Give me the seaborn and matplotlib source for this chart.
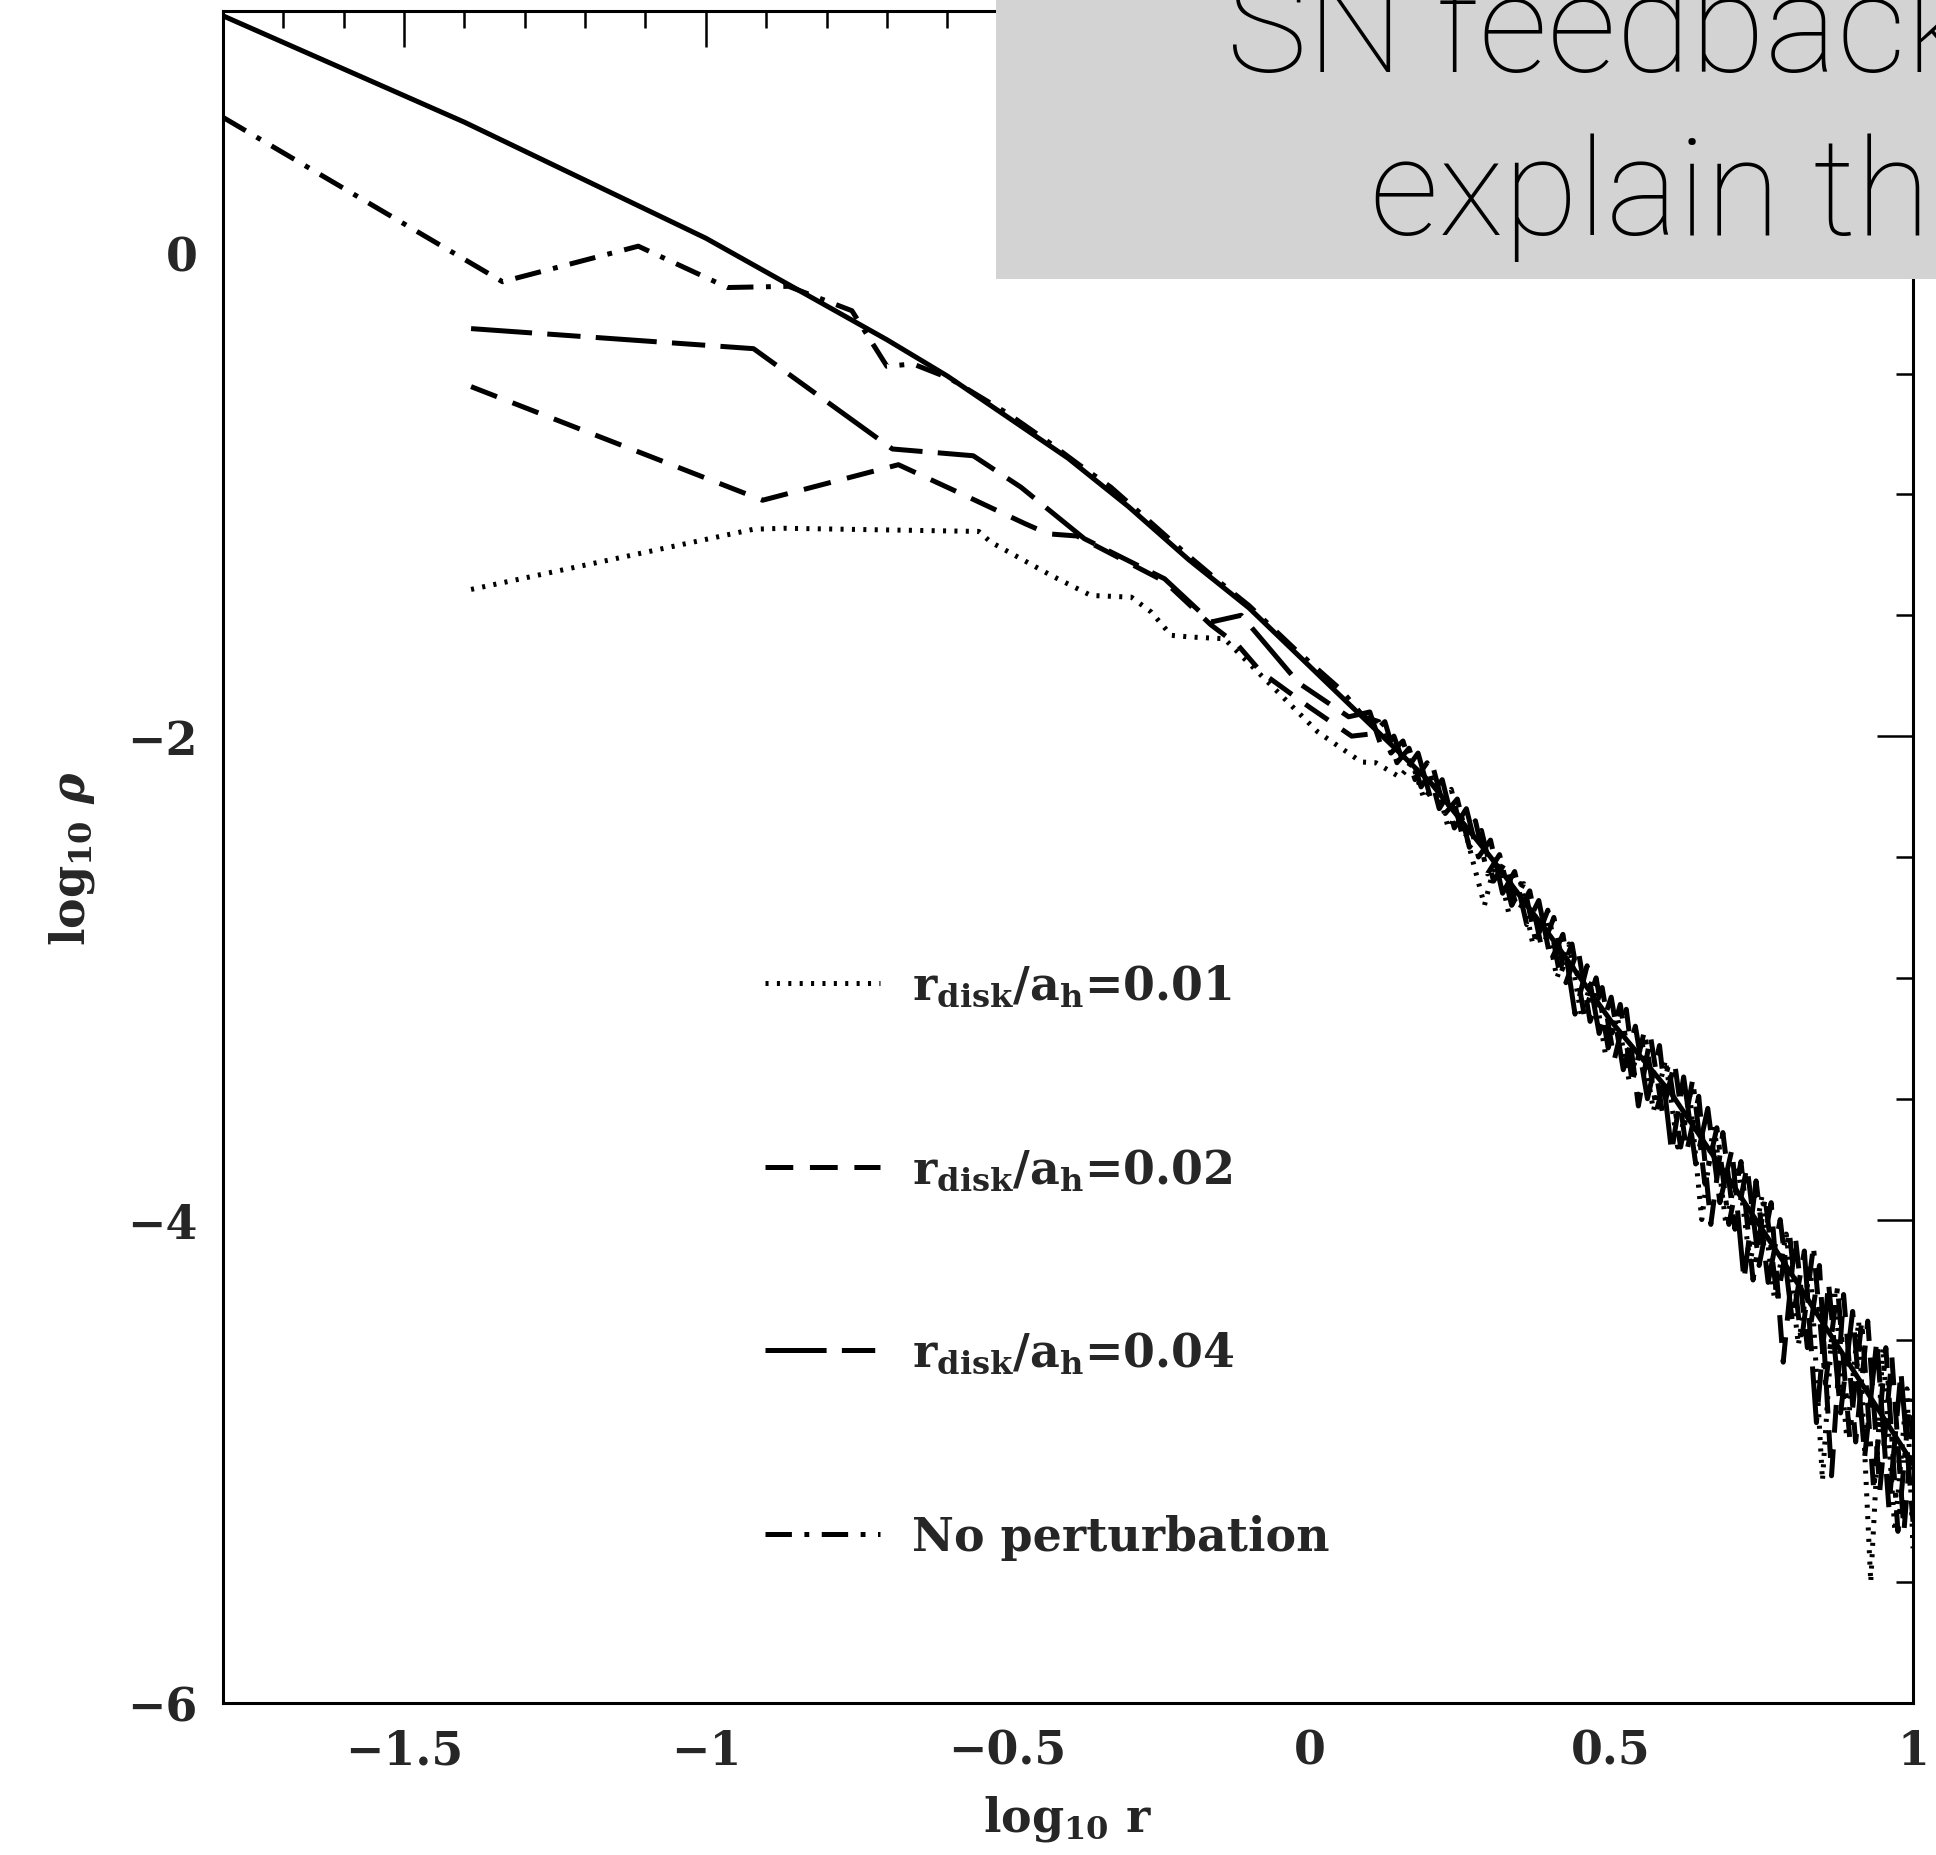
import numpy as np
import pandas as pd
import matplotlib
matplotlib.use("Agg")
import matplotlib.pyplot as plt
from matplotlib.ticker import MultipleLocator
from matplotlib.patches import Rectangle
import seaborn as sns

# ---------------- data ----------------
# initial (solid) profile
x_solid = [-1.8, -1.7, -1.6, -1.5, -1.4, -1.3, -1.2, -1.1, -1.0, -0.9, -0.8, -0.7, -0.6, -0.5,
           -0.4, -0.3, -0.2, -0.1, 0.0, 0.1, 0.2, 0.3, 0.4, 0.5, 0.6, 0.7, 0.8, 0.9, 1.0]
y_solid = [0.98, 0.87, 0.76, 0.65, 0.54, 0.42, 0.30, 0.18, 0.06, -0.08, -0.22, -0.36, -0.51, -0.68,
           -0.85, -1.05, -1.27, -1.47, -1.71, -1.95, -2.19, -2.50, -2.83, -3.18, -3.48, -3.85, -4.23,
           -4.62, -5.01]

# r_disk/a_h = 0.01 (dotted)
x_d01_in = [-1.389, -0.921, -0.870, -0.548, -0.528, -0.428, -0.362, -0.295, -0.262, -0.229, -0.196,
            -0.141, -0.069, 0.014, 0.086]
y_d01_in = [-1.393, -1.144, -1.140, -1.153, -1.197, -1.335, -1.418, -1.425, -1.487, -1.583, -1.590,
            -1.597, -1.776, -1.983, -2.107]
x_d01_out = [0.11, 0.13, 0.15, 0.17, 0.19, 0.21, 0.23, 0.25, 0.27, 0.29, 0.31, 0.33, 0.35, 0.37, 0.39,
             0.41, 0.43, 0.45, 0.47, 0.49, 0.51, 0.53, 0.55, 0.57, 0.59, 0.61, 0.63, 0.65, 0.67, 0.69,
             0.71, 0.73, 0.75, 0.77, 0.79, 0.81, 0.83, 0.85, 0.87, 0.89, 0.91, 0.93, 0.95, 0.97, 0.99, 1.0]
y_d01_out = [-2.11, -2.14, -2.17, -2.11, -2.26, -2.19, -2.38, -2.31, -2.51, -2.70, -2.50, -2.73, -2.61,
             -2.86, -2.74, -3.00, -2.86, -3.15, -3.00, -3.31, -3.16, -3.43, -3.25, -3.55, -3.34, -3.70,
             -3.48, -4.00, -3.60, -4.02, -3.78, -4.18, -3.90, -4.32, -4.06, -4.52, -4.19, -5.08, -4.29,
             -4.90, -4.42, -5.50, -4.53, -5.29, -4.70, -5.36]

# r_disk/a_h = 0.02 (dashed)
x_d02_in = [-1.389, -0.906, -0.681, -0.583, -0.472, -0.433, -0.385, -0.240, -0.163, -0.118, -0.080,
            0.000, 0.070]
y_d02_in = [-0.554, -1.024, -0.877, -0.990, -1.120, -1.163, -1.172, -1.360, -1.540, -1.625, -1.735,
            -1.880, -2.000]
x_d02_out = [0.105, 0.125, 0.145, 0.165, 0.185, 0.205, 0.225, 0.245, 0.265, 0.285, 0.305, 0.325, 0.345,
             0.365, 0.385, 0.405, 0.425, 0.445, 0.465, 0.485, 0.505, 0.525, 0.545, 0.565, 0.585, 0.605,
             0.625, 0.645, 0.665, 0.685, 0.705, 0.725, 0.745, 0.765, 0.785, 0.805, 0.825, 0.845, 0.865,
             0.885, 0.905, 0.925, 0.945, 0.965, 0.985, 1.0]
y_d02_out = [-1.99, -1.94, -2.11, -2.05, -2.21, -2.13, -2.32, -2.26, -2.46, -2.39, -2.60, -2.52, -2.73,
             -2.64, -2.88, -2.75, -3.02, -2.88, -3.18, -3.04, -3.34, -3.13, -3.53, -3.24, -3.56, -3.35,
             -3.72, -3.49, -4.02, -3.64, -4.04, -3.78, -4.19, -3.93, -4.59, -4.07, -4.53, -4.19, -5.06,
             -4.31, -4.92, -4.42, -5.12, -4.57, -5.29, -4.81]

# r_disk/a_h = 0.04 (long-short dash)
x_d04_in = [-1.389, -0.921, -0.691, -0.557, -0.478, -0.373, -0.240, -0.163, -0.113, -0.018, 0.065]
y_d04_in = [-0.314, -0.397, -0.812, -0.840, -0.970, -1.183, -1.349, -1.528, -1.500, -1.780, -1.920]
x_d04_out = [0.10, 0.12, 0.14, 0.16, 0.18, 0.20, 0.22, 0.24, 0.26, 0.28, 0.30, 0.32, 0.34, 0.36, 0.38,
             0.40, 0.42, 0.44, 0.46, 0.48, 0.50, 0.52, 0.54, 0.56, 0.58, 0.60, 0.62, 0.64, 0.66, 0.68,
             0.70, 0.72, 0.74, 0.76, 0.78, 0.80, 0.82, 0.84, 0.86, 0.88, 0.90, 0.92, 0.94, 0.96, 0.98, 1.00]
y_d04_out = [-1.90, -2.05, -2.00, -2.14, -2.07, -2.25, -2.18, -2.38, -2.30, -2.50, -2.43, -2.65, -2.56,
             -2.78, -2.68, -2.93, -2.82, -3.15, -2.95, -3.23, -3.08, -3.38, -3.20, -3.50, -3.28, -3.72,
             -3.41, -3.77, -3.54, -3.93, -3.71, -4.25, -3.84, -4.26, -4.00, -4.42, -4.13, -4.84, -4.26,
             -4.80, -4.38, -4.98, -4.50, -5.19, -4.63, -5.25]

# No perturbation (dash-dot)
x_np_in = [-1.80, -1.337, -1.112, -0.964, -0.863, -0.835, -0.758, -0.700, -0.657, -0.596, -0.500,
           -0.434, -0.380, -0.329, -0.270, -0.207, -0.150, -0.100, -0.024, 0.053, 0.090]
y_np_in = [0.56, -0.120, 0.027, -0.144, -0.139, -0.166, -0.240, -0.470, -0.460, -0.520, -0.665,
           -0.780, -0.880, -0.970, -1.100, -1.240, -1.360, -1.460, -1.640, -1.810, -1.920]
x_np_out = [0.115, 0.135, 0.155, 0.175, 0.195, 0.215, 0.235, 0.255, 0.275, 0.295, 0.315, 0.335, 0.355,
            0.375, 0.395, 0.415, 0.435, 0.455, 0.475, 0.495, 0.515, 0.535, 0.555, 0.575, 0.595, 0.615,
            0.635, 0.655, 0.675, 0.695, 0.715, 0.735, 0.755, 0.775, 0.795, 0.815, 0.835, 0.855, 0.875,
            0.895, 0.915, 0.935, 0.955, 0.975, 0.995]
y_np_out = [-1.94, -2.07, -2.02, -2.18, -2.11, -2.30, -2.22, -2.43, -2.35, -2.57, -2.49, -2.70, -2.61,
            -2.85, -2.72, -2.99, -2.86, -3.15, -3.00, -3.29, -3.11, -3.43, -3.22, -3.55, -3.36, -3.70,
            -3.42, -3.85, -3.62, -4.02, -3.76, -4.25, -3.91, -4.33, -4.05, -4.51, -4.11, -4.68, -4.28,
            -4.90, -4.42, -5.12, -4.53, -5.29, -4.74]

legend_labels = [r"$\mathbf{r_{disk}/a_h}$=0.01", r"$\mathbf{r_{disk}/a_h}$=0.02",
                 r"$\mathbf{r_{disk}/a_h}$=0.04", "No perturbation"]
xtick_vals = [-1.5, -1.0, -0.5, 0.0, 0.5, 1.0]
xtick_labels = ["\u22121.5", "\u22121", "\u22120.5", "0", "0.5", "1"]
ytick_vals = [-6, -4, -2, 0]
ytick_labels = ["\u22126", "\u22124", "\u22122", "0"]
overlay_lines = ['"SN feedback', "explain the"]

# ---------------- style ----------------
sns.set_theme(style="white")
plt.rcParams.update({
    "lines.scale_dashes": False,
    "mathtext.fontset": "dejavuserif",
    "axes.edgecolor": "black",
    "axes.linewidth": 2.2,
    "font.weight": "bold",
})
plt.rcParams["font.family"] = ["DejaVu Serif"]

W, H = 1936, 1856
fig = plt.figure(figsize=(W / 100, H / 100), dpi=100)
ax = fig.add_axes([223 / W, 1 - 1704 / H, (1913 - 223) / W, (1704 - 12) / H])

LW = 3.6
styles = {
    "d01": (0, (2.2, 6.0)),
    "d02": (0, (20, 12)),
    "d04": (0, (44, 11, 24, 11)),
    "np": (0, (19, 9, 3.5, 9)),
}

sns.lineplot(x=x_solid, y=y_solid, ax=ax, color="black", linewidth=LW, sort=False,
             estimator=None, errorbar=None)

series = [
    (x_d01_in + x_d01_out, y_d01_in + y_d01_out, styles["d01"], legend_labels[0]),
    (x_d02_in + x_d02_out, y_d02_in + y_d02_out, styles["d02"], legend_labels[1]),
    (x_d04_in + x_d04_out, y_d04_in + y_d04_out, styles["d04"], legend_labels[2]),
    (x_np_in + x_np_out, y_np_in + y_np_out, styles["np"], legend_labels[3]),
]
for xs, ys, ls, lab in series:
    df = pd.DataFrame({"x": xs, "y": ys})
    sns.lineplot(data=df, x="x", y="y", ax=ax, color="black", linewidth=LW, linestyle=ls,
                 sort=False, estimator=None, errorbar=None, label=lab)

ax.set_xlim(-1.8, 1.0)
ax.set_ylim(-6, 1)
ax.set_xticks(xtick_vals, labels=xtick_labels)
ax.set_yticks(ytick_vals, labels=ytick_labels)
ax.xaxis.set_minor_locator(MultipleLocator(0.1))
ax.yaxis.set_minor_locator(MultipleLocator(0.5))
ax.tick_params(which="both", direction="in", top=True, right=True, color="black",
               labelsize=33, pad=18)
ax.tick_params(which="major", length=26, width=1.8)
ax.tick_params(which="minor", length=12, width=1.8)
for lbl in ax.get_xticklabels() + ax.get_yticklabels():
    lbl.set_fontweight("bold")
for sp in ax.spines.values():
    sp.set_visible(True)
    sp.set_color("black")
    sp.set_linewidth(2.2)

ax.set_xlabel(r"$\mathbf{log_{10}\ r}$", fontsize=33, labelpad=14)
ax.set_ylabel(r"$\mathbf{log_{10}}\ \boldsymbol{\rho}$", fontsize=33, labelpad=22)

ax.legend(loc="center left", bbox_to_anchor=(0.3207, 0.261), frameon=False,
          handlelength=2.5, handletextpad=0.7, labelspacing=3.0, borderpad=0,
          borderaxespad=0, prop={"size": 33, "weight": "bold", "family": "DejaVu Serif"})

# grey overlay box with slide text
fig.add_artist(Rectangle((996 / W, 1 - 280 / H), 940 / W, 280 / H, transform=fig.transFigure,
                         facecolor="#d3d3d3", edgecolor="none", zorder=10))
fig.text(1192 / W, 1 - 72 / H, overlay_lines[0], fontsize=98, family=["Roboto", "DejaVu Sans"],
         weight="light", ha="left", va="baseline", color="black", zorder=11)
fig.text(1370 / W, 1 - 235 / H, overlay_lines[1], fontsize=98, family=["Roboto", "DejaVu Sans"],
         weight="light", ha="left", va="baseline", color="black", zorder=11)

fig.savefig("out.png", dpi=100)
